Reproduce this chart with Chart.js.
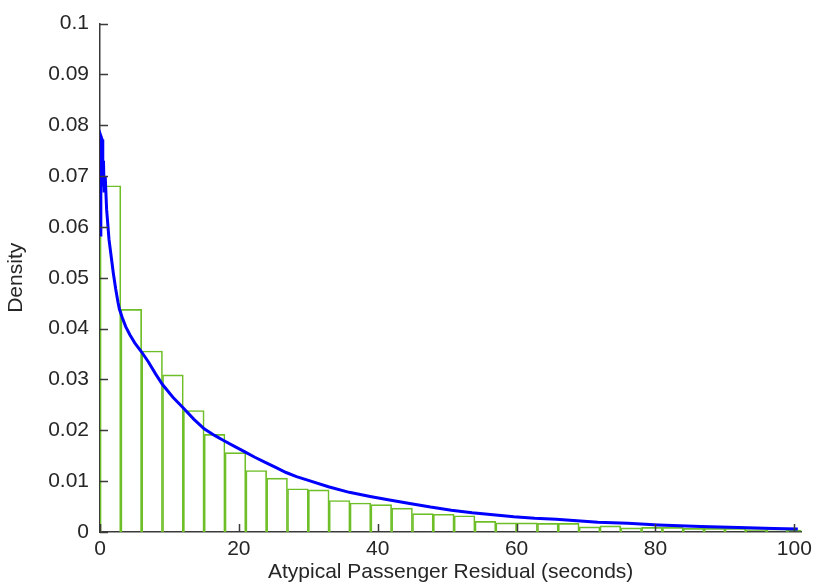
<!DOCTYPE html>
<html>
<head>
<meta charset="utf-8">
<script src="https://cdn.jsdelivr.net/npm/chart.js@4.4.1/dist/chart.umd.min.js"></script>
<style>
  html, body { margin: 0; padding: 0; background: #fff; }
  #wrap { width: 817px; height: 587px; }
</style>
</head>
<body>
<div id="wrap"><canvas id="myChart"></canvas></div>
<script>
// histogram bins (width 3 s), centres and densities
const binCenters = [1.5, 4.5, 7.5, 10.5, 13.5, 16.5, 19.5, 22.5, 25.5, 28.5, 31.5, 34.5,
  37.5, 40.5, 43.5, 46.5, 49.5, 52.5, 55.5, 58.5, 61.5, 64.5, 67.5, 70.5, 73.5, 76.5,
  79.5, 82.5, 85.5, 88.5, 91.5, 94.5, 97.5, 100.5];
const binDensity = [0.0681, 0.0438, 0.0356, 0.0309, 0.0239, 0.0192, 0.0156, 0.0121,
  0.0106, 0.0085, 0.0083, 0.0062, 0.0057, 0.0054, 0.0047, 0.0036, 0.0035, 0.0032,
  0.0021, 0.0018, 0.0018, 0.0017, 0.0017, 0.0010, 0.0012, 0.0008, 0.0009, 0.0009,
  0.0007, 0.0007, 0.0007, 0.0005, 0.0006, 0.0004];

// fitted density curve
const curveX = [0, 0.12, 0.3, 0.4, 0.5, 0.6, 0.75, 0.95, 1.3, 1.63, 1.91, 2.26, 2.59,
  2.8, 3.2, 3.7, 4.3, 5, 6, 7, 8, 9, 10.5, 12, 13.5, 15, 16.5, 17.8, 19.3, 20.8, 22.3,
  23.8, 25.3, 26.8, 28.3, 29.9, 32.9, 35.9, 38.9, 41.7, 44.6, 47.6, 50.6, 53.6, 56.6,
  59.6, 62.6, 65.7, 68.7, 71.7, 76, 80.4, 86.5, 92, 97, 100.5];
const curveY = [0.0584, 0.0779, 0.0772, 0.0680, 0.0730, 0.0668, 0.0700, 0.0635,
  0.0575, 0.0540, 0.0510, 0.0478, 0.0452, 0.0438, 0.0422, 0.0404, 0.0388, 0.0372,
  0.0354, 0.0334, 0.0311, 0.0290, 0.0265, 0.0244, 0.0222, 0.0203, 0.0190, 0.0180,
  0.0169, 0.0158, 0.0147, 0.0137, 0.0127, 0.0117, 0.0109, 0.0102, 0.0089, 0.0078,
  0.0070, 0.0063, 0.0056, 0.0049, 0.0043, 0.0038, 0.0034, 0.0030, 0.0027, 0.0025,
  0.0022, 0.0019, 0.0017, 0.0014, 0.0011, 0.0009, 0.0007, 0.0006];

const xTicks = [0, 20, 40, 60, 80, 100];

const colors = {
  green: "rgb(110, 190, 40)",
  blue: "#0000ff",
  axis: "#3a3a3a",
  text: "#262626"
};

const font = { family: "'Liberation Sans', Arial, sans-serif", size: 21 };

// MATLAB style ticks pointing into the plot
const innerTicks = {
  id: "innerTicks",
  afterDatasetsDraw(chart) {
    const { ctx, chartArea, scales } = chart;
    const len = 8;
    ctx.save();
    ctx.strokeStyle = colors.axis;
    ctx.lineWidth = 1.5;
    ctx.beginPath();
    scales.y.ticks.forEach(t => {
      const py = Math.round(scales.y.getPixelForValue(t.value)) + 0.5;
      ctx.moveTo(chartArea.left, py);
      ctx.lineTo(chartArea.left + len, py);
    });
    scales.x.ticks.forEach(t => {
      const px = Math.round(scales.x.getPixelForValue(t.value)) + 0.5;
      ctx.moveTo(px, chartArea.bottom);
      ctx.lineTo(px, chartArea.bottom - len);
    });
    ctx.stroke();
    ctx.restore();
  }
};

const ctx = document.getElementById("myChart").getContext("2d");

const data = {
  datasets: [
    {
      type: "line",
      label: "Density fit",
      data: curveX.map((x, i) => ({ x: x, y: curveY[i] })),
      borderColor: colors.blue,
      borderWidth: 3,
      pointRadius: 0,
      tension: 0,
      order: 0
    },
    {
      type: "bar",
      label: "Histogram",
      data: binCenters.map((x, i) => ({ x: x, y: binDensity[i] })),
      backgroundColor: "rgba(255,255,255,0)",
      borderColor: colors.green,
      borderWidth: 1,
      barPercentage: 1,
      categoryPercentage: 1,
      order: 1
    }
  ]
};

const config = {
  type: "bar",
  data: data,
  plugins: [innerTicks],
  options: {
    responsive: true,
    maintainAspectRatio: false,
    animation: false,
    layout: { padding: { top: 18, right: 14, left: 0, bottom: 0 } },
    plugins: {
      legend: { display: false },
      tooltip: { enabled: false }
    },
    scales: {
      x: {
        type: "linear",
        offset: false,
        min: 0,
        max: 101,
        afterBuildTicks: s => { s.ticks = xTicks.map(v => ({ value: v })); },
        afterFit: s => { s.height = 55; },
        grid: { display: false, drawTicks: false },
        border: { display: true, color: colors.axis, width: 1.5 },
        ticks: { color: colors.text, font: font, padding: 5, maxRotation: 0 },
        title: {
          display: true,
          text: "Atypical Passenger Residual (seconds)",
          color: colors.text,
          font: font,
          padding: { top: 0, bottom: 2 }
        }
      },
      y: {
        min: 0,
        max: 0.1,
        afterFit: s => { s.width = 100; },
        grid: { display: false, drawTicks: false },
        border: { display: true, color: colors.axis, width: 1.5 },
        ticks: {
          stepSize: 0.01,
          color: colors.text,
          font: font,
          padding: 11,
          callback: v => String(+v.toFixed(2))
        },
        title: {
          display: true,
          text: "Density",
          color: colors.text,
          font: font,
          padding: { top: 4, bottom: 0 }
        }
      }
    }
  }
};

const myChart = new Chart(ctx, config);
</script>
</body>
</html>
